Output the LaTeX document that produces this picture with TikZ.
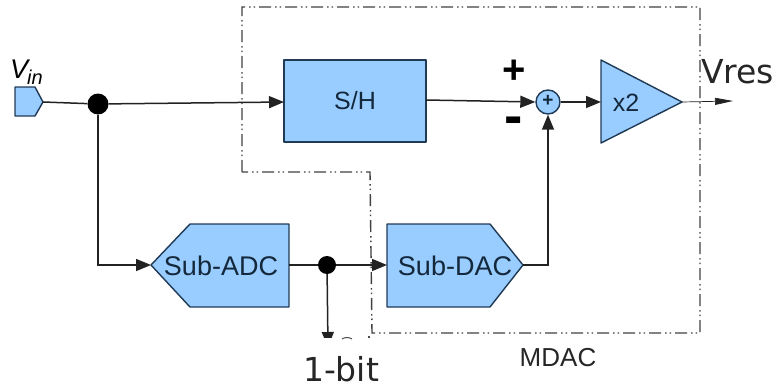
\documentclass[tikz,border=0pt]{standalone}
\usepackage{fontspec}
\setmainfont{Liberation Sans}
\newfontfamily\dejavu{DejaVu Sans}
\usetikzlibrary{arrows.meta}
\definecolor{blk}{HTML}{99CCFF}
\definecolor{edg}{HTML}{1F3A55}
\definecolor{wire}{HTML}{222222}
\definecolor{txt}{HTML}{14283C}
\tikzset{
  x=1pt,y=-1pt,
  blockshape/.style={draw=edg,fill=blk,line width=1.4pt,line join=round},
  lab/.style={inner sep=0pt,text=txt,font=\fontsize{25}{27}\selectfont},
  sublab/.style={inner sep=0pt,text=txt,font=\fontsize{27}{29}\selectfont},
  wirel/.style={draw=wire,line width=1.5pt},
  sig/.style={wirel,-{Triangle[length=15pt,width=12pt]}},
  junc/.style={circle,fill=black,inner sep=0pt},
  bound/.style={draw=black!75,line width=1.4pt,dash pattern=on 12pt off 4pt on 1.5pt off 3pt on 1.5pt off 4pt},
  big/.style={inner sep=0pt,text=black!85,font=\dejavu\fontsize{33}{35}\selectfont}
}
\begin{document}
\begin{tikzpicture}
\useasboundingbox (0,0) rectangle (774,388);
% nodes
\draw[blockshape] (15,87) -- (35,87) -- (43,102) -- (35,116) -- (15,116) -- cycle;
\coordinate (vinout) at (43,102);
\node[anchor=base west,inner sep=0pt,font=\fontsize{27}{29}\selectfont\itshape] (vin) at (10,78) {V};
\node[anchor=base west,inner sep=0pt,font=\fontsize{20}{22}\selectfont\itshape] (vinsub) at (27,84) {in};
\node[junc,minimum width=17pt,minimum height=21pt] (j1) at (98,104) {};
\node[blockshape,minimum width=142pt,minimum height=82pt,inner sep=0pt,lab] (sh) at (355,101) {S/H};
\coordinate (shin) at (284,102);
\coordinate (shout) at (426,100);
\draw[blockshape] (151,265) -- (190,224) -- (289,224) -- (289,307) -- (190,307) -- cycle;
\node[sublab] (adc) at (221,266) {Sub-ADC};
\coordinate (adcin) at (151,265);
\coordinate (adcout) at (289,265);
\draw[blockshape] (387,224) -- (490,224) -- (523,265) -- (490,307) -- (387,307) -- cycle;
\node[sublab] (dac) at (455,266) {Sub-DAC};
\coordinate (dacin) at (387,265);
\coordinate (dacout) at (523,265);
\node[junc,minimum size=18pt] (j2) at (327,265) {};
\node[circle,blockshape,minimum size=24pt,inner sep=0pt] (sum) at (548,102) {};
\node[inner sep=0pt,text=txt,font=\fontsize{19}{20}\selectfont\bfseries] at (548,101) {+};
\draw[blockshape] (601,60) -- (682,102) -- (601,143) -- cycle;
\node[lab] (x2) at (626,103) {x2};
\coordinate (ampin) at (601,102);
\coordinate (ampout) at (682,102);
\coordinate (vres) at (733,101);
\coordinate (bit) at (328,347);
% boundary
\draw[bound] (242,172) -- (242,7) -- (700,7) -- (700,333) -- (372,333) -- (370,172) -- cycle;
% connectors
\draw[wirel] (vinout) -- (j1);
\draw[sig] (j1) -- (shin);
\draw[sig] (shout) -- (sum.west);
\draw[sig] (sum.east) -- (ampin);
\draw[draw=wire,line width=.7pt,-{Triangle[length=18pt,width=7pt]}] (ampout) -- (vres);
\draw[sig] (j1.south) |- (adcin);
\draw[wirel] (adcout) -- (j2);
\draw[sig] (j2) -- (dacin);
\draw[sig] (dacout) -| (sum.south);
\draw[sig] (j2) -- (bit);
% the reference is cut off below this line
\fill[white] (280,338) rectangle (400,388);
\draw[black!70,line width=1pt] (342,339) .. controls (345,337) and (349,337) .. (352,339);
\fill[black!70] (368,336) rectangle (370,338);
% labels
\node[inner sep=0pt,text=black,font=\bfseries\fontsize{40}{42}\selectfont] (plus) at (514,72) {+};
\node[inner sep=0pt,text=black,font=\bfseries\fontsize{55}{57}\selectfont] (minus) at (514,126) {-};
\node[big,anchor=west] (vreslab) at (701,72) {Vres};
\node[big] (onebit) at (341,369) {1-bit};
\node[inner sep=0pt,text=black!85,font=\fontsize{26}{28}\selectfont] (mdac) at (558,358) {MDAC};
\end{tikzpicture}
\end{document}
